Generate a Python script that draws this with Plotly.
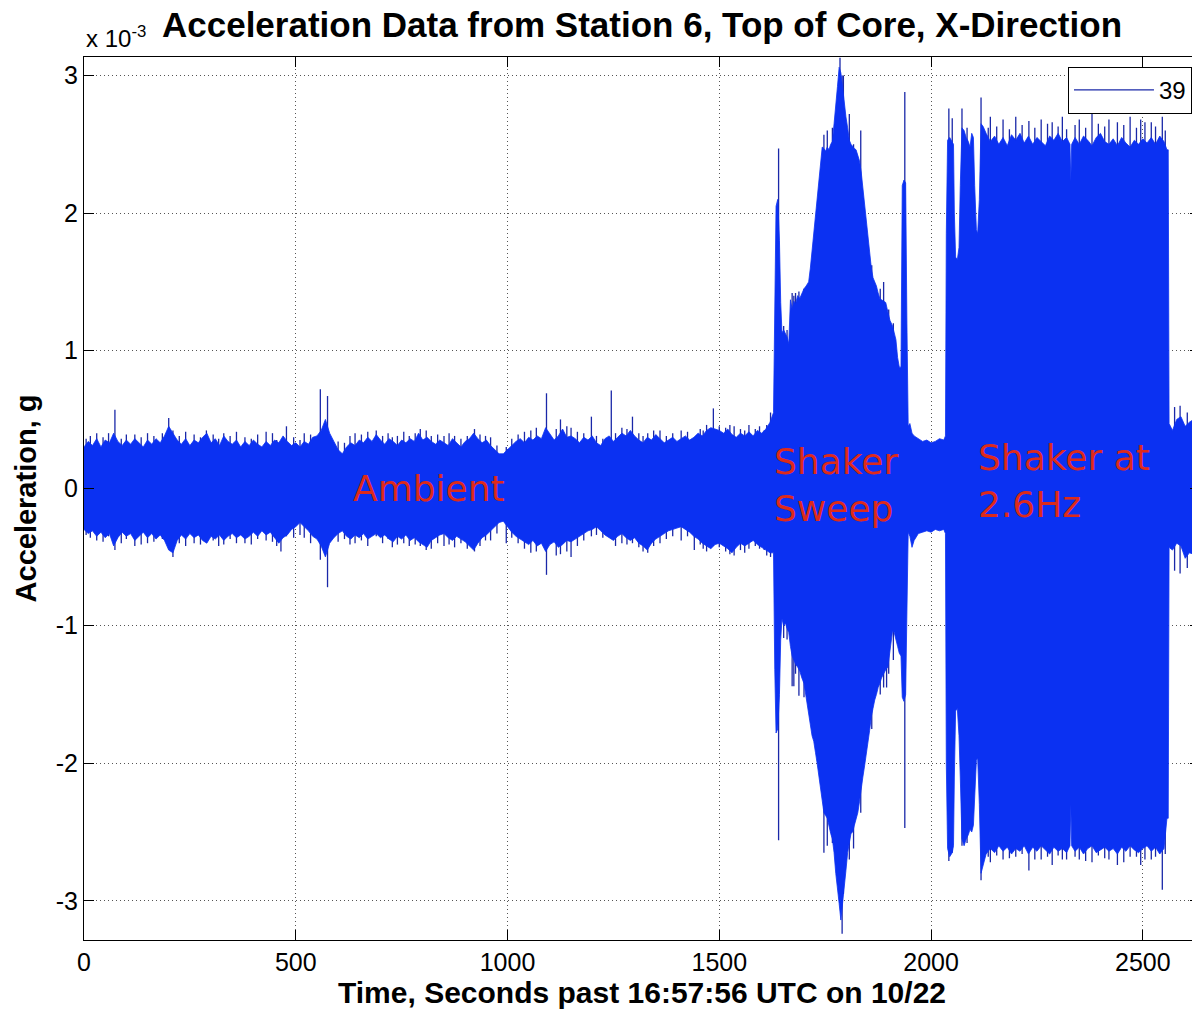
import plotly.graph_objects as go

# ---------------- data (acceleration in units of 1e-3 g) ----------------
# Ambient section: envelope of the trace read every 10 s
ambient_t = [
    0, 10, 20, 30, 40, 50, 60, 70, 80, 90,
    100, 110, 120, 130, 140, 150, 160, 170, 180, 190,
    200, 210, 220, 230, 240, 250, 260, 270, 280, 290,
    300, 310, 320, 330, 340, 350, 360, 370, 380, 390,
    400, 410, 420, 430, 440, 450, 460, 470, 480, 490,
    500, 510, 520, 530, 540, 550, 560, 570, 580, 590,
    600, 610, 620, 630, 640, 650, 660, 670, 680, 690,
    700, 710, 720, 730, 740, 750, 760, 770, 780, 790,
    800, 810, 820, 830, 840, 850, 860, 870, 880, 890,
    900, 910, 920, 930, 940, 950, 960, 970, 980, 990,
    1000, 1010, 1020, 1030, 1040, 1050, 1060, 1070, 1080, 1090,
    1100, 1110, 1120, 1130, 1140, 1150, 1160, 1170, 1180, 1190,
    1200, 1210, 1220, 1230, 1240, 1250, 1260, 1270, 1280, 1290,
    1300, 1310, 1320, 1330, 1340, 1350, 1360, 1370, 1380, 1390,
    1400, 1410, 1420, 1430, 1440, 1450, 1460, 1470, 1480, 1490,
    1500, 1510, 1520, 1530, 1540, 1550, 1560, 1570, 1580, 1590,
    1600, 1610, 1620,
]
ambient_hi = [
    0.30, 0.34, 0.31, 0.36, 0.30, 0.35, 0.33, 0.40, 0.34, 0.31,
    0.35, 0.32, 0.36, 0.33, 0.30, 0.35, 0.32, 0.36, 0.33, 0.38,
    0.45, 0.40, 0.35, 0.32, 0.36, 0.31, 0.35, 0.33, 0.37, 0.40,
    0.33, 0.36, 0.31, 0.38, 0.34, 0.32, 0.35, 0.30, 0.34, 0.31,
    0.35, 0.32, 0.30, 0.34, 0.31, 0.35, 0.33, 0.38, 0.34, 0.31,
    0.33, 0.30, 0.34, 0.32, 0.37, 0.38, 0.42, 0.50, 0.40, 0.34,
    0.28, 0.25, 0.30, 0.33, 0.31, 0.35, 0.33, 0.37, 0.34, 0.39,
    0.35, 0.32, 0.36, 0.34, 0.31, 0.35, 0.33, 0.36, 0.34, 0.40,
    0.35, 0.37, 0.34, 0.32, 0.35, 0.33, 0.31, 0.36, 0.33, 0.30,
    0.34, 0.36, 0.40, 0.36, 0.33, 0.35, 0.31, 0.28, 0.25, 0.25,
    0.28, 0.31, 0.34, 0.36, 0.33, 0.37, 0.35, 0.38, 0.36, 0.44,
    0.39, 0.35, 0.38, 0.43, 0.37, 0.38, 0.36, 0.33, 0.37, 0.35,
    0.38, 0.33, 0.31, 0.36, 0.38, 0.34, 0.37, 0.40, 0.38, 0.42,
    0.38, 0.35, 0.33, 0.37, 0.35, 0.39, 0.36, 0.33, 0.35, 0.37,
    0.34, 0.36, 0.38, 0.35, 0.37, 0.40, 0.38, 0.42, 0.44, 0.43,
    0.42, 0.40, 0.43, 0.39, 0.37, 0.40, 0.38, 0.41, 0.38, 0.42,
    0.40, 0.43, 0.48,
]
ambient_lo = [
    -0.30, -0.33, -0.31, -0.35, -0.32, -0.36, -0.33, -0.42, -0.36, -0.32,
    -0.35, -0.33, -0.38, -0.35, -0.32, -0.36, -0.33, -0.37, -0.34, -0.38,
    -0.45, -0.47, -0.38, -0.34, -0.37, -0.33, -0.36, -0.34, -0.38, -0.40,
    -0.35, -0.37, -0.34, -0.38, -0.35, -0.33, -0.36, -0.34, -0.37, -0.35,
    -0.32, -0.35, -0.31, -0.34, -0.32, -0.36, -0.40, -0.36, -0.34, -0.30,
    -0.28, -0.25, -0.28, -0.31, -0.35, -0.37, -0.42, -0.50, -0.40, -0.36,
    -0.33, -0.31, -0.35, -0.37, -0.34, -0.36, -0.33, -0.37, -0.35, -0.33,
    -0.36, -0.34, -0.37, -0.39, -0.35, -0.37, -0.34, -0.38, -0.36, -0.39,
    -0.41, -0.43, -0.38, -0.36, -0.34, -0.33, -0.36, -0.38, -0.35, -0.37,
    -0.39, -0.42, -0.45, -0.40, -0.36, -0.34, -0.31, -0.28, -0.25, -0.24,
    -0.28, -0.32, -0.35, -0.37, -0.39, -0.41, -0.38, -0.42, -0.40, -0.46,
    -0.41, -0.39, -0.43, -0.41, -0.38, -0.39, -0.37, -0.35, -0.33, -0.31,
    -0.30, -0.28, -0.31, -0.34, -0.36, -0.38, -0.35, -0.33, -0.36, -0.38,
    -0.36, -0.40, -0.42, -0.45, -0.40, -0.37, -0.35, -0.33, -0.31, -0.30,
    -0.29, -0.28, -0.30, -0.32, -0.35, -0.37, -0.40, -0.42, -0.44, -0.41,
    -0.40, -0.42, -0.44, -0.47, -0.43, -0.40, -0.42, -0.40, -0.38, -0.41,
    -0.43, -0.45, -0.47,
]

# Shaker sweep section
sweep_t = [
    1628, 1631, 1634, 1638, 1642, 1645, 1648, 1652, 1656, 1660,
    1664, 1668, 1672, 1676, 1680, 1685, 1690, 1695, 1700, 1705,
    1711, 1715, 1719, 1723, 1727, 1731, 1735, 1739, 1743, 1747,
    1751, 1755, 1759, 1763, 1767, 1771, 1775, 1779, 1783, 1787,
    1791, 1795, 1799, 1803, 1807, 1811, 1815, 1819, 1823, 1827,
    1831, 1835, 1839, 1843, 1847, 1851, 1855, 1859, 1863, 1867,
    1871, 1875, 1879, 1883, 1888, 1893, 1898, 1903, 1909, 1913,
    1917, 1921, 1925, 1929, 1932, 1936, 1940, 1943, 1946,
]
sweep_hi = [
    0.55, 1.35, 2.05, 2.10, 1.80, 1.35, 1.13, 1.15, 1.12, 1.10,
    1.05, 1.37, 1.30, 1.36, 1.34, 1.40, 1.38, 1.42, 1.45, 1.47,
    1.50, 1.60, 1.73, 1.87, 2.01, 2.12, 2.25, 2.38, 2.48, 2.47,
    2.45, 2.48, 2.46, 2.50, 2.52, 2.65, 2.82, 2.92, 3.06, 3.02,
    2.92, 2.80, 2.70, 2.62, 2.53, 2.50, 2.48, 2.47, 2.46, 2.42,
    2.38, 2.30, 2.18, 2.06, 1.97, 1.84, 1.71, 1.60, 1.53, 1.50,
    1.47, 1.42, 1.38, 1.37, 1.36, 1.35, 1.28, 1.22, 1.18, 1.13,
    1.08, 0.95, 0.88, 0.88, 2.20, 2.24, 2.22, 1.20, 0.45,
]
sweep_lo = [
    -0.47, -1.32, -1.78, -1.75, -1.50, -1.10, -0.95, -1.00, -0.98, -1.02,
    -1.05, -1.15, -1.22, -1.25, -1.28, -1.30, -1.33, -1.38, -1.42, -1.50,
    -1.62, -1.72, -1.80, -1.84, -1.92, -2.00, -2.08, -2.17, -2.27, -2.36,
    -2.38, -2.40, -2.45, -2.51, -2.55, -2.65, -2.80, -2.92, -3.02, -3.14,
    -3.05, -2.92, -2.78, -2.65, -2.58, -2.51, -2.50, -2.45, -2.40, -2.36,
    -2.28, -2.21, -2.10, -2.02, -1.94, -1.86, -1.76, -1.66, -1.60, -1.54,
    -1.50, -1.45, -1.42, -1.38, -1.35, -1.32, -1.30, -1.20, -1.04, -1.05,
    -1.10, -1.15, -1.20, -1.22, -1.52, -1.55, -1.50, -0.90, -0.32,
]

# Quiet gap between sweep and steady shaking
gap_t = [1950, 1955, 1960, 1970, 1980, 1990, 2000, 2010, 2020, 2030, 2034]
gap_hi = [0.47, 0.40, 0.38, 0.36, 0.34, 0.35, 0.33, 0.34, 0.36, 0.35, 0.38]
gap_lo = [-0.35, -0.43, -0.38, -0.33, -0.32, -0.31, -0.32, -0.30, -0.31, -0.30, -0.33]

# Shaker at 2.6 Hz section
steady_t = [
    2036, 2039, 2044, 2050, 2053, 2055, 2058, 2062, 2066, 2069,
    2073, 2078, 2083, 2088, 2092, 2096, 2100, 2103, 2107, 2110,
    2114, 2118, 2123, 2130, 2140, 2150, 2160, 2170, 2180, 2190,
    2200, 2210, 2220, 2230, 2240, 2250, 2260, 2270, 2280, 2290,
    2300, 2310, 2320, 2328, 2330, 2332, 2340, 2350, 2360, 2370,
    2380, 2390, 2400, 2410, 2420, 2430, 2440, 2450, 2460, 2470,
    2480, 2490, 2500, 2510, 2520, 2530, 2540, 2550, 2557, 2560,
]
steady_hi = [
    1.85, 2.53, 2.55, 2.52, 2.50, 2.00, 1.68, 1.66, 1.75, 2.20,
    2.62, 2.60, 2.55, 2.52, 2.48, 2.58, 2.55, 2.20, 1.88, 1.85,
    2.10, 2.65, 2.63, 2.58, 2.52, 2.56, 2.50, 2.55, 2.49, 2.57,
    2.53, 2.58, 2.51, 2.56, 2.50, 2.55, 2.52, 2.49, 2.56, 2.53,
    2.58, 2.52, 2.55, 2.50, 2.23, 2.50, 2.55, 2.50, 2.56, 2.53,
    2.49, 2.55, 2.58, 2.52, 2.50, 2.54, 2.49, 2.55, 2.51, 2.48,
    2.53, 2.50, 2.54, 2.51, 2.55, 2.50, 2.56, 2.52, 2.46, 2.46,
]
steady_lo = [
    -2.00, -2.62, -2.68, -2.65, -2.60, -2.10, -1.62, -1.60, -1.80, -2.10,
    -2.55, -2.60, -2.55, -2.52, -2.48, -2.50, -2.45, -2.20, -1.98, -1.96,
    -2.30, -2.80, -2.75, -2.66, -2.62, -2.65, -2.60, -2.64, -2.61, -2.66,
    -2.62, -2.64, -2.60, -2.66, -2.61, -2.64, -2.60, -2.63, -2.66, -2.61,
    -2.64, -2.62, -2.65, -2.60, -2.30, -2.60, -2.64, -2.61, -2.66, -2.62,
    -2.60, -2.65, -2.63, -2.61, -2.64, -2.62, -2.66, -2.61, -2.64, -2.60,
    -2.63, -2.65, -2.62, -2.60, -2.64, -2.61, -2.66, -2.62, -2.40, -2.40,
]

# Ambient again after the shaker stopped
tail_t = [2562, 2570, 2580, 2590, 2600, 2610, 2620, 2635]
tail_hi = [0.47, 0.42, 0.50, 0.52, 0.45, 0.48, 0.50, 0.46]
tail_lo = [-0.43, -0.45, -0.40, -0.42, -0.51, -0.47, -0.48, -0.44]

# Thin peaks that stick out of the envelope (time, top, bottom)
spike_t = [
    5, 15, 30, 45, 58, 73, 88, 100, 120, 135, 150, 165, 185, 200, 210,
    225, 240, 260, 275, 289, 305, 318, 330, 345, 360, 380, 395, 410,
    430, 445, 455, 465, 478, 495, 510, 520, 535, 558, 575, 600, 615,
    628, 640, 655, 670, 690, 705, 718, 728, 740, 755, 768, 782, 794,
    808, 820, 835, 850, 862, 875, 890, 905, 922, 935, 948, 960, 975,
    997, 1010, 1025, 1040, 1055, 1068, 1092, 1115, 1125, 1140, 1150,
    1165, 1180, 1198, 1210, 1225, 1245, 1255, 1270, 1282, 1295, 1310,
    1320, 1331, 1345, 1360, 1375, 1390, 1410, 1425, 1441, 1455, 1462,
    1470, 1486, 1500, 1515, 1525, 1535, 1550, 1560, 1570, 1585, 1595,
    1606, 1612, 1621,
    1640, 1652, 1660, 1672, 1676, 1680, 1688, 1700, 1747, 1755, 1767,
    1785, 1790, 1793, 1807, 1817, 1834, 1860, 1880, 1888, 1895, 1900,
    1911, 1938,
    2042, 2050, 2073, 2085, 2118, 2135, 2140, 2155, 2170, 2185, 2200,
    2215, 2231, 2245, 2260, 2275, 2286, 2300, 2310, 2320, 2340, 2350,
    2365, 2380, 2395, 2410, 2420, 2440, 2455, 2470, 2485, 2495, 2505,
    2520, 2530, 2546, 2553,
    2575, 2588, 2605, 2622,
]
spike_hi = [
    0.36, 0.38, 0.40, 0.37, 0.40, 0.57, 0.36, 0.39, 0.39, 0.37, 0.40, 0.38, 0.40, 0.51, 0.42,
    0.38, 0.41, 0.39, 0.37, 0.42, 0.39, 0.36, 0.40, 0.38, 0.41, 0.37, 0.36, 0.39,
    0.41, 0.40, 0.35, 0.30, 0.45, 0.37, 0.35, 0.40, 0.39, 0.72, 0.67, 0.34, 0.33,
    0.38, 0.40, 0.39, 0.41, 0.42, 0.38, 0.40, 0.37, 0.38, 0.41, 0.38, 0.40, 0.43,
    0.42, 0.38, 0.39, 0.38, 0.40, 0.38, 0.36, 0.38, 0.43, 0.39, 0.38, 0.37, 0.31,
    0.30, 0.36, 0.39, 0.41, 0.42, 0.44, 0.69, 0.43, 0.50, 0.45, 0.44,
    0.41, 0.40, 0.52, 0.38, 0.36, 0.71, 0.40, 0.44, 0.43, 0.52, 0.40,
    0.38, 0.40, 0.42, 0.42, 0.38, 0.40, 0.42, 0.41, 0.36, 0.43, 0.42,
    0.46, 0.58, 0.45, 0.44, 0.46, 0.45, 0.43, 0.42, 0.46, 0.43, 0.45,
    0.42, 0.46, 0.55,
    2.47, 1.18, 1.15, 1.42, 1.40, 1.42, 1.43, 1.45, 2.57, 2.60, 2.62,
    3.13, 3.00, 3.00, 2.72, 2.50, 2.60, 1.62, 1.45, 1.50, 1.30, 1.30,
    1.20, 2.88,
    2.76, 2.69, 2.76, 2.62, 2.84, 2.62, 2.70, 2.63, 2.68, 2.61, 2.70,
    2.64, 2.67, 2.62, 2.68, 2.65, 2.66, 2.63, 2.70, 2.61, 2.64, 2.68,
    2.62, 2.72, 2.65, 2.63, 2.68, 2.66, 2.64, 2.70, 2.62, 2.68, 2.66,
    2.66, 2.63, 2.70, 2.60,
    0.59, 0.60, 0.55, 0.60,
]
spike_lo = [
    -0.34, -0.36, -0.38, -0.39, -0.35, -0.45, -0.40, -0.37, -0.42, -0.41, -0.40, -0.39, -0.37, -0.42, -0.50,
    -0.40, -0.42, -0.40, -0.41, -0.38, -0.38, -0.42, -0.41, -0.37, -0.40, -0.40, -0.41, -0.37,
    -0.38, -0.39, -0.42, -0.46, -0.35, -0.36, -0.34, -0.36, -0.40, -0.52, -0.72, -0.39, -0.37,
    -0.41, -0.40, -0.38, -0.42, -0.35, -0.40, -0.37, -0.43, -0.41, -0.40, -0.42, -0.41, -0.42,
    -0.45, -0.44, -0.40, -0.42, -0.41, -0.43, -0.40, -0.44, -0.46, -0.42, -0.38, -0.38, -0.33,
    -0.40, -0.36, -0.40, -0.44, -0.47, -0.46, -0.63, -0.49, -0.48, -0.46, -0.50,
    -0.42, -0.38, -0.35, -0.34, -0.36, -0.36, -0.42, -0.40, -0.41, -0.40, -0.43,
    -0.46, -0.47, -0.42, -0.40, -0.37, -0.35, -0.38, -0.35, -0.45, -0.41, -0.44,
    -0.46, -0.42, -0.43, -0.46, -0.48, -0.49, -0.45, -0.47, -0.44, -0.42, -0.44,
    -0.45, -0.49, -0.50,
    -2.56, -1.09, -1.10, -1.44, -1.44, -1.35, -1.51, -1.52, -2.65, -2.60, -2.58,
    -3.00, -3.24, -2.95, -2.70, -2.62, -2.36, -1.75, -1.50, -1.45, -1.45, -1.35,
    -1.25, -2.47,
    -2.71, -2.65, -2.60, -2.58, -2.85, -2.68, -2.72, -2.67, -2.70, -2.69, -2.68,
    -2.66, -2.78, -2.70, -2.70, -2.68, -2.74, -2.67, -2.70, -2.70, -2.68, -2.70,
    -2.71, -2.72, -2.67, -2.69, -2.70, -2.74, -2.72, -2.68, -2.68, -2.74, -2.70,
    -2.70, -2.68, -2.92, -2.66,
    -0.60, -0.62, -0.58, -0.55,
]

x_ticks = [0, 500, 1000, 1500, 2000, 2500]
x_ticklabels = ["0", "500", "1000", "1500", "2000", "2500"]
y_ticks = [-3, -2, -1, 0, 1, 2, 3]
y_ticklabels = ["-3", "-2", "-1", "0", "1", "2", "3"]

# ---------------- figure ----------------
BLUE = "#0b31f2"
SPIKE = "#1a28a8"
RED = "#DD2A1B"

env_t = ambient_t + sweep_t + gap_t + steady_t + tail_t
env_hi = ambient_hi + sweep_hi + gap_hi + steady_hi + tail_hi
env_lo = ambient_lo + sweep_lo + gap_lo + steady_lo + tail_lo
assert len(env_t) == len(env_hi) == len(env_lo)
assert len(spike_t) == len(spike_hi) == len(spike_lo)

poly_x = env_t + env_t[::-1]
poly_y = env_hi + env_lo[::-1]

spike_x, spike_y = [], []
for t, hi, lo in zip(spike_t, spike_hi, spike_lo):
    spike_x += [t, t, None]
    spike_y += [lo, hi, None]

fig = go.Figure()
fig.add_trace(go.Scatter(
    x=spike_x, y=spike_y, mode="lines", name="39",
    line=dict(color=SPIKE, width=1.3), hoverinfo="skip", showlegend=True,
))
fig.add_trace(go.Scatter(
    x=poly_x, y=poly_y, mode="lines", fill="toself", fillcolor=BLUE,
    line=dict(color=BLUE, width=0.8), hoverinfo="skip", showlegend=False,
))

FONT = "Liberation Sans, Arial, Helvetica, sans-serif"
axis_common = dict(
    ticks="inside", ticklen=10, tickcolor="black", tickwidth=1,
    showline=True, linecolor="black", linewidth=1, mirror="ticks",
    showgrid=True, gridcolor="#555555", gridwidth=1, griddash="1px,3px",
    zeroline=False, tickfont=dict(family=FONT, size=25, color="black"),
)

fig.update_xaxes(
    range=[0, 2635], tickvals=x_ticks, ticktext=x_ticklabels,
    title=dict(text="<b>Time, Seconds past 16:57:56 UTC on 10/22</b>",
               font=dict(family=FONT, size=30, color="black"), standoff=6),
    **axis_common,
)
fig.update_yaxes(
    range=[-3.285, 3.135], tickvals=y_ticks, ticktext=y_ticklabels,
    title=dict(text="<b>Acceleration, g</b>",
               font=dict(family=FONT, size=29, color="black"), standoff=10),
    **axis_common,
)

# The page body has an 8 px margin, so the figure is 8 px smaller on each side
fig.update_layout(
    width=1192, height=1006,
    margin=dict(l=76, r=0, t=49, b=74),
    paper_bgcolor="white", plot_bgcolor="white",
    font=dict(family=FONT, color="black", size=25),
    title=dict(text="<b>Acceleration Data from Station 6, Top of Core, X-Direction</b>",
               x=0.5, xref="paper", xanchor="center",
               y=1 - 17 / 1006, yref="container", yanchor="middle",
               font=dict(family=FONT, size=35, color="black")),
    showlegend=True,
    legend=dict(x=0.9928, xanchor="right", y=0.989, yanchor="top",
                bgcolor="white", bordercolor="black", borderwidth=1,
                itemwidth=80, tracegroupgap=0,
                font=dict(family=FONT, size=24, color="black")),
)

fig.add_annotation(text="x 10<sup>-3</sup>", xref="paper", yref="paper",
                   x=0, y=1, xanchor="left", yanchor="bottom", yshift=3,
                   showarrow=False, font=dict(family=FONT, size=24, color="black"))

ann_font = dict(family="DejaVu Sans, Verdana, sans-serif", size=36, color=RED)
fig.add_annotation(text="Ambient", x=630, y=0.0, xref="x", yref="y",
                   xanchor="left", yanchor="middle", showarrow=False, font=ann_font)
fig.add_annotation(text="Shaker<br>Sweep", x=1625, y=0.02, xref="x", yref="y",
                   xanchor="left", yanchor="middle", align="left", showarrow=False, font=ann_font)
fig.add_annotation(text="Shaker at<br>2.6Hz", x=2106, y=0.05, xref="x", yref="y",
                   xanchor="left", yanchor="middle", align="left", showarrow=False, font=ann_font)

fig.write_html("out.html")
